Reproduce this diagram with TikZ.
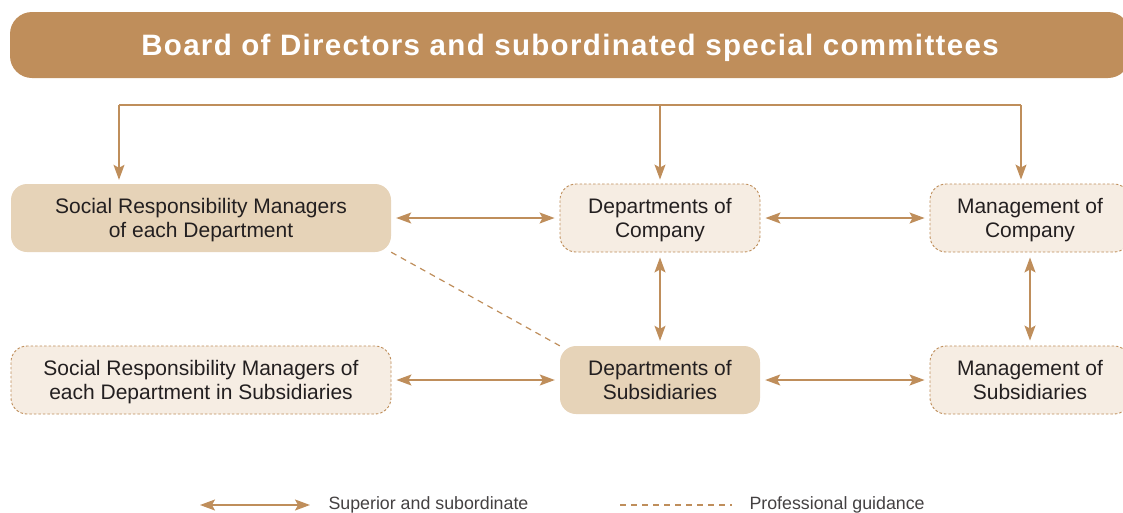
\documentclass[tikz,border=0pt]{standalone}
\usepackage{fontspec}
\setmainfont{Liberation Sans}
\usetikzlibrary{arrows.meta}
\definecolor{bronze}{HTML}{BF8E5B}
\definecolor{sand}{HTML}{E6D3B8}
\definecolor{cream}{HTML}{F6EDE3}
\definecolor{ink}{HTML}{231F20}
\begin{document}
\begin{tikzpicture}[x=1pt, y=-1pt,
  box/.style={rounded corners=16pt, minimum width=380pt, minimum height=68pt, align=center, text=ink, font=\fontsize{21}{24}\selectfont},
  solidbox/.style={box, fill=sand},
  dashbox/.style={box, fill=cream, draw=bronze, line width=0.9pt, dash pattern=on 2.5pt off 2pt},
  sup/.style={draw=bronze, line width=1.5pt, {Stealth[length=15pt, width=11pt, inset=3pt]}-{Stealth[length=15pt, width=11pt, inset=3pt]}, shorten <=5pt, shorten >=5pt},
  down/.style={draw=bronze, line width=1.5pt, -{Stealth[length=15pt, width=11pt, inset=3pt]}, shorten >=4pt},
  guide/.style={draw=bronze, line width=1.2pt, dash pattern=on 6pt off 5pt}]
\useasboundingbox (0,0) rectangle (1123,512);

\node [fill=bronze, rounded corners=22pt, minimum width=1120pt, minimum height=66pt, text depth=0pt, text=white, font=\fontsize{29.5}{34}\selectfont\bfseries\addfontfeature{LetterSpace=4.5}] (board) at (570,45) {Board of Directors and subordinated special committees};

\node [solidbox] (srm) at (201,218) {Social Responsibility Managers\\\smash{of each Department}};
\node [dashbox, minimum width=200pt] (depco) at (660,218) {Departments of\\\smash{Company}};
\node [dashbox, minimum width=200pt] (mgtco) at (1030,218) {Management of\\\smash{Company}};
\node [dashbox] (srmsub) at (201,380) {Social Responsibility Managers of\\\smash{each Department in Subsidiaries}};
\node [solidbox, minimum width=200pt] (depsub) at (660,380) {Departments of\\\smash{Subsidiaries}};
\node [dashbox, minimum width=200pt] (mgtsub) at (1030,380) {Management of\\\smash{Subsidiaries}};

% board lines
\coordinate (busl) at (119,105);
\coordinate (busr) at (1021,105);
\draw [bronze, line width=1.2pt] (busl) -- (busr);
\draw [down, line width=1.2pt] (busl) -- (busl |- srm.north);
\draw [down, line width=1.2pt] (depco.north |- busl) -- (depco.north);
\draw [down, line width=1.2pt] (busr) -- (busr |- mgtco.north);

\draw [sup] (srm.east) -- (depco.west);
\draw [sup] (depco.east) -- (mgtco.west);
\draw [sup] (srmsub.east) -- (depsub.west);
\draw [sup] (depsub.east) -- (mgtsub.west);
\draw [sup] (depco.south) -- (depsub.north);
\draw [sup] (mgtco.south) -- (mgtsub.north);
\draw [guide] (srm.south east) -- (depsub.north west);

% legend
\node [anchor=west, text=ink!85, font=\fontsize{17.8}{20}\selectfont] (legsup) at (325,505) {Superior and subordinate};
\node [anchor=west, text=ink!85, font=\fontsize{17.8}{20}\selectfont] (legguide) at (746,505) {Professional guidance};
\draw [sup, shorten <=0pt, shorten >=0pt] ([xshift=-125pt]legsup.west) -- ([xshift=-15pt]legsup.west);
\draw [guide] ([xshift=-126pt]legguide.west) -- ([xshift=-14pt]legguide.west);
\end{tikzpicture}
\end{document}
